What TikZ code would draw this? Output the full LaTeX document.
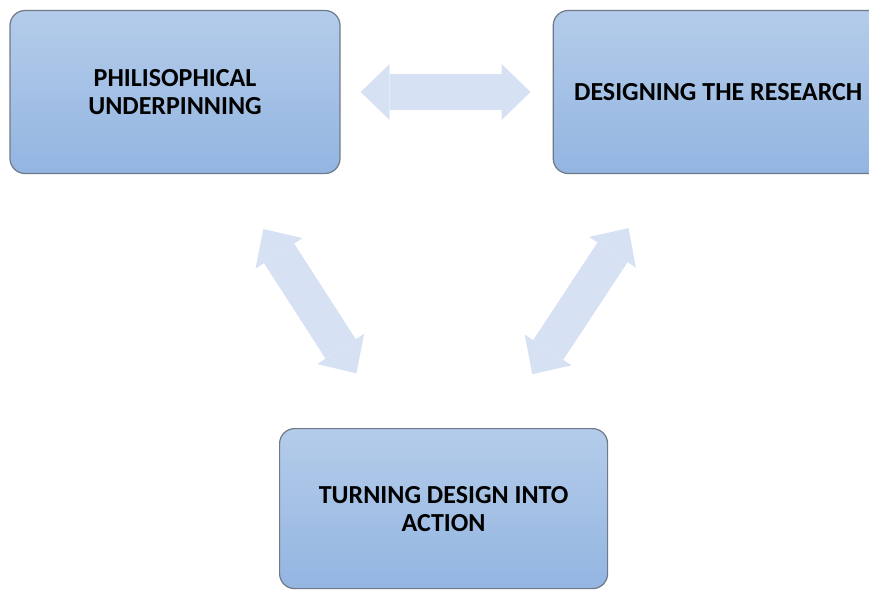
\documentclass[tikz,border=0pt]{standalone}
\usepackage{fontspec}
\setmainfont{Carlito}
\usepackage{xcolor}
\usetikzlibrary{arrows.meta, positioning, calc}
\definecolor{boxtop}{HTML}{B4CCEA}
\definecolor{boxbottom}{HTML}{93B5E1}
\definecolor{boxedge}{HTML}{6E7A88}
\definecolor{arrowfill}{HTML}{D6E2F3}
\tikzset{
    base/.style={draw=boxedge, line width=1.2pt, font=\bfseries\fontsize{26}{28}\selectfont, align=center, text=black},
    block/.style={base, rectangle, rounded corners=15pt, top color=boxtop, bottom color=boxbottom, minimum width=330pt, minimum height=163pt},
    twoway/.style={draw=arrowfill, line width=36pt, {Triangle[length=29pt 0 0, width=56pt 0 0, line width=0pt]}-{Triangle[length=29pt 0 0, width=56pt 0 0, line width=0pt]}}
}

\begin{document}
\begin{tikzpicture}[x=1pt, y=-1pt]
    \useasboundingbox (0,0) rectangle (869,590);
    \node [block] (Philosophy) at (175,92) {PHILISOPHICAL\\UNDERPINNING};
    \node [block, right=212pt of Philosophy] (Design) {DESIGNING THE RESEARCH};
    \coordinate (Middle) at ($(Philosophy)!0.5!(Design)$);
    \node [block, below=336pt of Middle, xshift=-3pt, minimum width=328pt, minimum height=160pt] (Action) {TURNING DESIGN INTO\\ACTION};

    \path [twoway, shorten <=20pt, shorten >=22pt] (Philosophy.east) -- (Design.west);
    \path [twoway, shorten <=163pt, shorten >=161pt] (Philosophy.center) -- (Action.center);
    \path [twoway, shorten <=163pt, shorten >=161pt] (Design.center) -- (Action.center);
\end{tikzpicture}
\end{document}
